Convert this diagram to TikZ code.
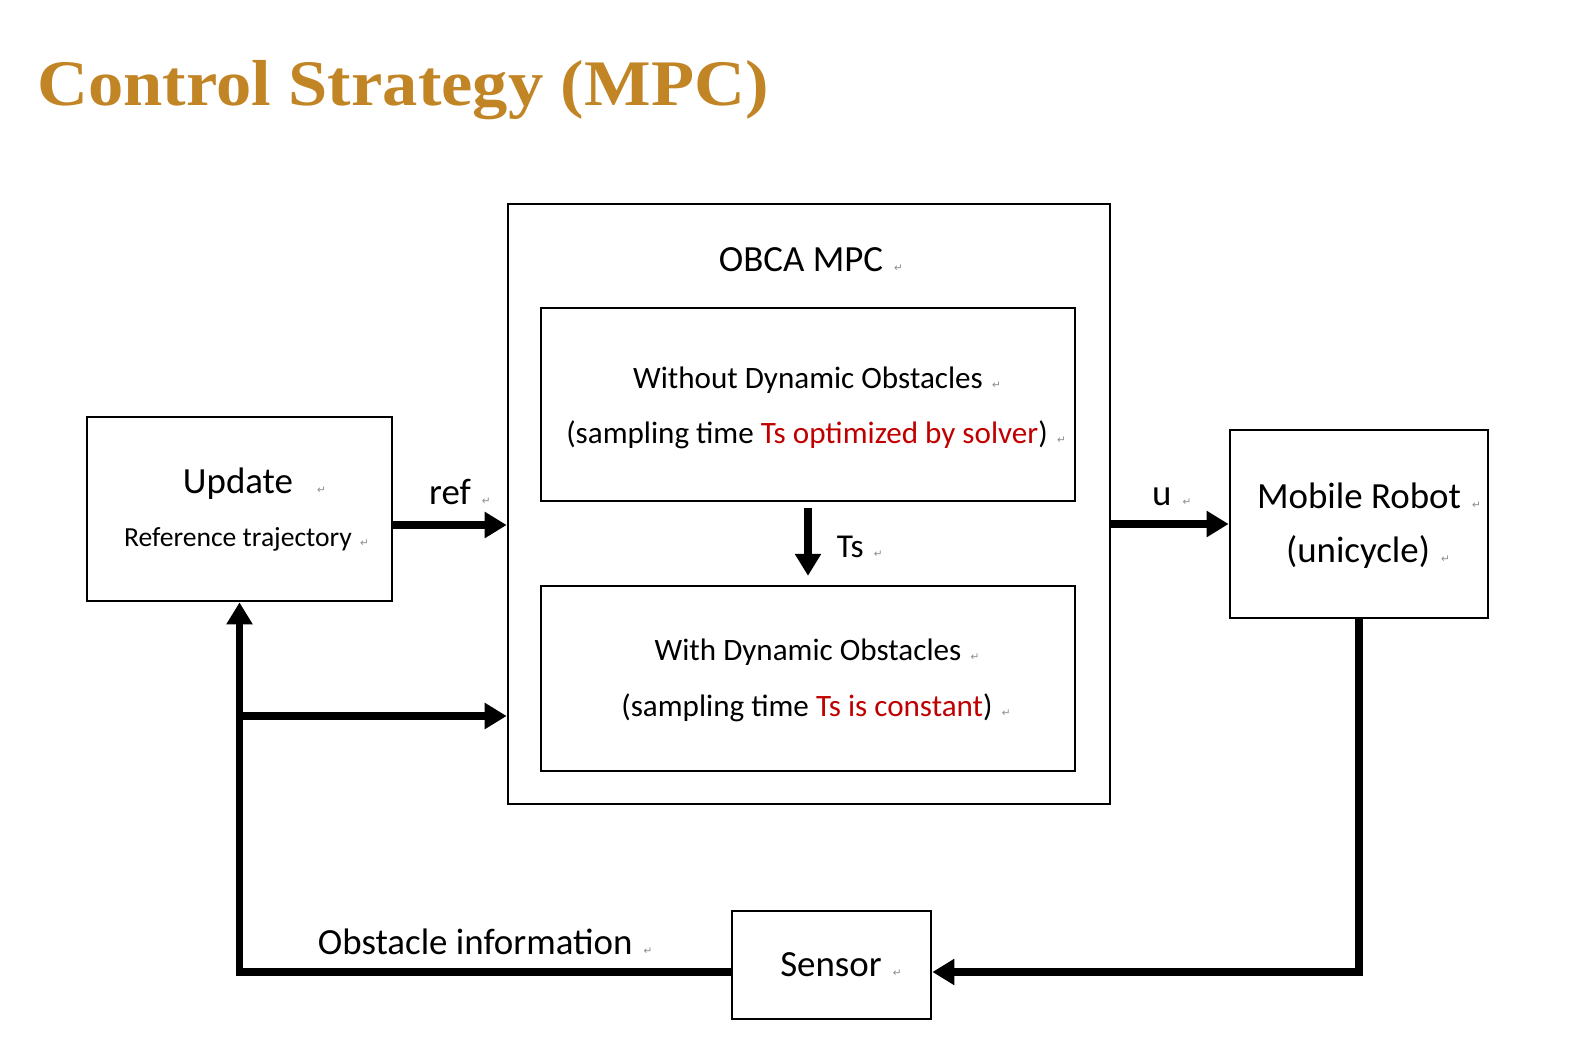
\documentclass[tikz,border=0pt]{standalone}
\usepackage{fontspec}
\setmainfont{Carlito}
\newfontfamily\titlefont{Liberation Serif}
\newfontfamily\markfont{DejaVu Sans}
\usetikzlibrary{arrows.meta,positioning,calc}

\definecolor{titlegold}{RGB}{193,133,38}
\definecolor{tsred}{RGB}{192,0,0}
\definecolor{markgray}{RGB}{140,140,140}
% small return marks left in the slide text
\newcommand{\pmark}[1][0.3em]{\rlap{\hspace{#1}{\markfont\fontsize{6}{6}\selectfont\color{markgray}↵}}}

\tikzset{
  block/.style={draw, line width=1.6pt, inner sep=0pt},
  lbl/.style={inner sep=0pt, anchor=base},
  bigtxt/.style={font=\fontsize{21}{25}\selectfont},
  midtxt/.style={font=\fontsize{17.7}{21}\selectfont},
  smalltxt/.style={font=\fontsize{15.7}{19}\selectfont},
  flow/.style={line width=4.5pt, -{Triangle[length=0.44cm, width=0.5cm]}}
}

\begin{document}
\begin{tikzpicture}[x=0.02cm, y=-0.02cm]
  \useasboundingbox (0,0) rectangle (1578,1051);

  \node[anchor=base west, inner sep=0pt, text=titlegold,
        font=\titlefont\bfseries\fontsize{37}{40}\selectfont] (title) at (37,106)
        {\scalebox{1.085}[1]{Control Strategy (MPC)}};

  % blocks
  \node[block, minimum width=6.10cm, minimum height=3.68cm] (update) at (239.5,509) {};
  \node[block, minimum width=12.04cm, minimum height=12.0cm] (mpc) at (809,504) {};
  \node[block, minimum width=10.68cm, minimum height=3.86cm] (nodyn) at (808,404.5) {};
  \node[block, minimum width=10.68cm, minimum height=3.70cm] (dyn) at (808,678.5) {};
  \node[block, minimum width=5.16cm, minimum height=3.76cm] (robot) at (1359,524) {};
  \node[block, minimum width=3.98cm, minimum height=2.16cm] (sensor) at (831.5,965) {};

  % texts
  \node[lbl, bigtxt] (updateT) at (238,493) {Update\pmark[0.65em]};
  \node[lbl, smalltxt] (trajT) at (238,546) {Reference trajectory\pmark};
  \node[lbl, bigtxt] (mpcT) at (801,271) {OBCA MPC\pmark};
  \node[lbl, midtxt] (nodynT) at (808,388) {Without Dynamic Obstacles\pmark};
  \node[lbl, midtxt] (nodynS) at (807,443)
        {(sampling time \textcolor{tsred}{Ts optimized by solver})\pmark};
  \node[lbl, midtxt] (dynT) at (808,660) {With Dynamic Obstacles\pmark};
  \node[lbl, midtxt] (dynS) at (807,716)
        {(sampling time \textcolor{tsred}{Ts is constant})\pmark};
  \node[lbl, bigtxt] (robotT) at (1359,508) {Mobile Robot\pmark};
  \node[lbl, bigtxt] (robotS) at (1358,562) {(unicycle)\pmark};
  \node[lbl, bigtxt] (sensorT) at (831,976) {Sensor\pmark};

  % connectors
  \coordinate (refy) at (0,525);
  \coordinate (fb) at (0,972);
  \coordinate (br) at (0,716);
  \draw[flow] (update.east |- refy) -- (mpc.west |- refy)
        node[lbl, bigtxt, pos=0.5, yshift=0.42cm] (refT) {ref\pmark};
  \draw[flow] (mpc.east |- robot.west) -- (robot.west)
        node[lbl, bigtxt, pos=0.43, yshift=0.38cm] (uT) {u\pmark};
  \draw[flow, shorten <=3.4pt, shorten >=5pt] (nodyn.south) -- (dyn.north)
        node[lbl, font=\fontsize{19}{23}\selectfont, pos=0.67, anchor=base west, xshift=0.5cm] (tsT) {Ts\pmark};
  \draw[flow] (robot.south) |- (sensor.east |- fb);
  \draw[flow] (sensor.west |- fb) -| (update.south)
        node[lbl, bigtxt, pos=0.26, yshift=0.36cm] (obsT) {Obstacle information\pmark};
  \draw[flow] (update.south |- br) -- (mpc.west |- br);
\end{tikzpicture}
\end{document}
